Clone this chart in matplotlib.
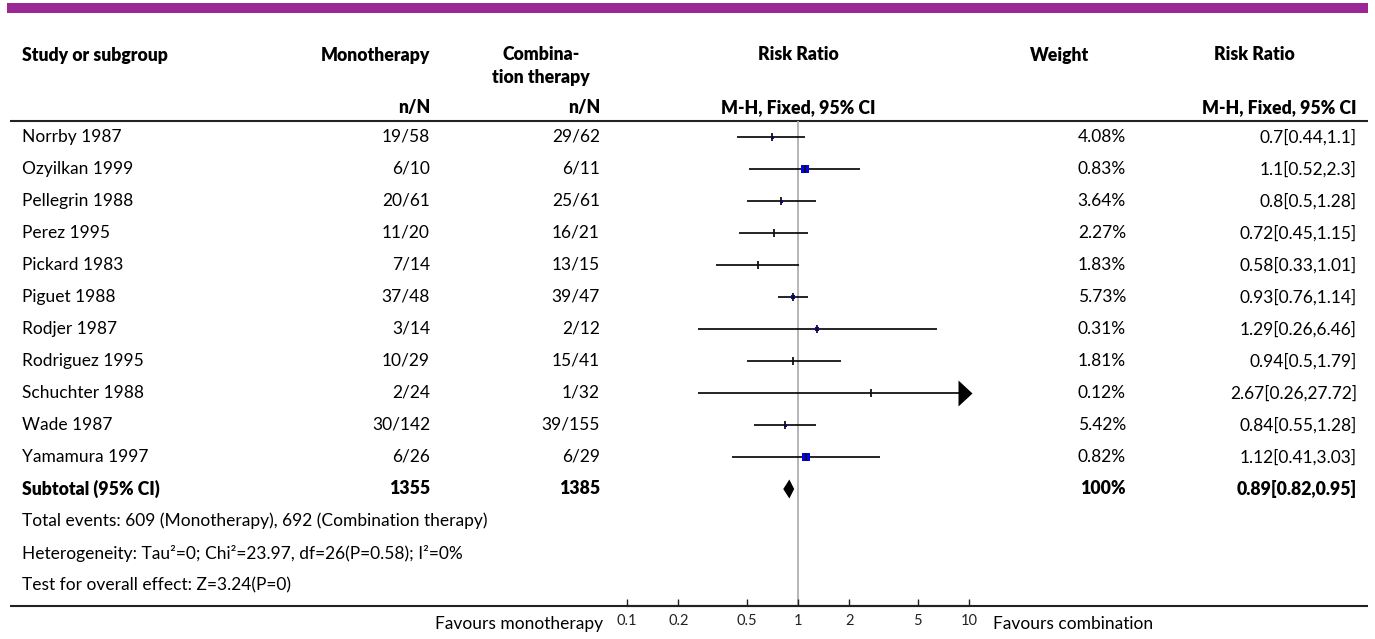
import numpy as np
import matplotlib
matplotlib.use("Agg")
import matplotlib.pyplot as plt
from matplotlib.patches import Rectangle, Polygon

plt.rcParams['font.family'] = ['Lato', 'DejaVu Sans']

# ---------------- data ----------------
studies = ["Norrby 1987", "Ozyilkan 1999", "Pellegrin 1988", "Perez 1995", "Pickard 1983",
           "Piguet 1988", "Rodjer 1987", "Rodriguez 1995", "Schuchter 1988", "Wade 1987",
           "Yamamura 1997"]
mono = ["19/58", "6/10", "20/61", "11/20", "7/14", "37/48", "3/14", "10/29", "2/24", "30/142", "6/26"]
comb = ["29/62", "6/11", "25/61", "16/21", "13/15", "39/47", "2/12", "15/41", "1/32", "39/155", "6/29"]
weights = [4.08, 0.83, 3.64, 2.27, 1.83, 5.73, 0.31, 1.81, 0.12, 5.42, 0.82]
rr = [0.7, 1.1, 0.8, 0.72, 0.58, 0.93, 1.29, 0.94, 2.67, 0.84, 1.12]
lo = [0.44, 0.52, 0.5, 0.45, 0.33, 0.76, 0.26, 0.5, 0.26, 0.55, 0.41]
hi = [1.1, 2.3, 1.28, 1.15, 1.01, 1.14, 6.46, 1.79, 27.72, 1.28, 3.03]
rr_labels = ["0.7[0.44,1.1]", "1.1[0.52,2.3]", "0.8[0.5,1.28]", "0.72[0.45,1.15]",
             "0.58[0.33,1.01]", "0.93[0.76,1.14]", "1.29[0.26,6.46]", "0.94[0.5,1.79]",
             "2.67[0.26,27.72]", "0.84[0.55,1.28]", "1.12[0.41,3.03]"]
sub_mono, sub_comb = "1355", "1385"
sub_weight = "100%"
sub_rr, sub_lo, sub_hi = 0.89, 0.82, 0.95
sub_label = "0.89[0.82,0.95]"
footer_lines = ["Total events: 609 (Monotherapy), 692 (Combination therapy)",
                "Heterogeneity: Tau\u00b2=0; Chi\u00b2=23.97, df=26(P=0.58); I\u00b2=0%",
                "Test for overall effect: Z=3.24(P=0)"]
ticks = [0.1, 0.2, 0.5, 1, 2, 5, 10]
tick_labels = ["0.1", "0.2", "0.5", "1", "2", "5", "10"]

# style: square side in px (as drawn in the reference)
square_px = [3, 8, 3, 2, 0, 4, 5, 1, 0, 3, 8]

# ---------------- layout ----------------
W, H = 1375, 639
fig = plt.figure(figsize=(W / 100, H / 100), dpi=100)
ax = fig.add_axes([0, 0, 1, 1])
ax.set_xlim(0, W)
ax.set_ylim(H, 0)
ax.axis('off')

FS = 12.5
FB = 12.7
BW = 'heavy'
purple = '#9C2896'
ax.add_patch(Rectangle((7, 3), 1368 - 7, 10, color=purple, lw=0))

def bold(x, y, s, ha):
    ax.text(x, y, s, fontsize=FB, fontweight=BW, va='center', ha=ha)

def norm(x, y, s, ha):
    ax.text(x, y, s, fontsize=FS, va='center', ha=ha)

# header
hy1, hy2, hy3 = 55, 77, 108
bold(22, hy1, "Study or subgroup", 'left')
bold(430, hy1, "Monotherapy", 'right')
bold(541, hy1, "Combina-", 'center')
bold(541, hy2, "tion therapy", 'center')
bold(798, hy1, "Risk Ratio", 'center')
bold(1060, hy1, "Weight", 'center')
bold(1254, hy1, "Risk Ratio", 'center')
bold(430, hy3, "n/N", 'right')
bold(600, hy3, "n/N", 'right')
bold(798, hy3, "M-H, Fixed, 95% CI", 'center')
bold(1357, hy3, "M-H, Fixed, 95% CI", 'right')
ax.plot([10, 1368], [121, 121], color='#222222', lw=1.5, solid_capstyle='butt')

# rows
row0, step = 137, 32
row_y = [row0 + step * i for i in range(len(studies))]
for i, y in enumerate(row_y):
    norm(22, y, studies[i], 'left')
    norm(430, y, mono[i], 'right')
    norm(600, y, comb[i], 'right')
    norm(1126, y, f"{weights[i]:.2f}%", 'right')
    norm(1357, y, rr_labels[i], 'right')

sy = row0 + step * len(studies)
bold(22, sy, "Subtotal (95% CI)", 'left')
bold(430, sy, sub_mono, 'right')
bold(600, sy, sub_comb, 'right')
bold(1126, sy, sub_weight, 'right')
bold(1357, sy, sub_label, 'right')
for k, line in enumerate(footer_lines):
    norm(22, sy + step * (k + 1), line, 'left')

axis_y = 606
ax.plot([10, 1368], [axis_y, axis_y], color='#222222', lw=1.5, solid_capstyle='butt')
norm(603, 624, "Favours monotherapy", 'right')
norm(993, 624, "Favours combination", 'left')

# ---------------- forest axes ----------------
x0, x1 = 627, 969
top = 121
fax = fig.add_axes([x0 / W, (H - axis_y) / H, (x1 - x0) / W, (axis_y - top) / H])
fax.set_xscale('log')
fax.set_xlim(0.1, 10)
fax.set_ylim(axis_y, top)
fax.patch.set_alpha(0)
for s in ['top', 'left', 'right']:
    fax.spines[s].set_visible(False)
fax.spines['bottom'].set_linewidth(1.5)
fax.spines['bottom'].set_color('#222222')
fax.set_yticks([])
fax.set_xticks(ticks)
fax.set_xticklabels(tick_labels)
fax.xaxis.set_minor_locator(matplotlib.ticker.NullLocator())
fax.tick_params(axis='x', direction='in', length=5, width=1, labelsize=10.5, pad=6,
                colors='#222222')
fax.axvline(1, color='#b0b0b0', lw=1.3, zorder=0)

ppi = 72 / 100
arrow_marker = [(-0.846, -1), (-0.846, 1), (0.23, 0), (-0.846, -1)]
for i, y in enumerate(row_y):
    right = min(hi[i], 10)
    fax.plot([lo[i], right], [y, y], color='black', lw=1.2, solid_capstyle='butt', zorder=2)
    if hi[i] > 10:
        fax.plot([10], [y], marker=arrow_marker, markersize=26 * ppi, color='black',
                 markeredgewidth=0, zorder=3, clip_on=False)
    if square_px[i] > 0:
        fax.plot([rr[i]], [y], marker='s', markersize=square_px[i] * ppi,
                 color='#0000ee', markeredgewidth=0, zorder=3)
    fax.plot([rr[i]], [y], marker='|', markersize=8 * ppi, color='#111111',
             markeredgewidth=1.3, zorder=4)

# diamond
dh = 9.5
fax.add_patch(Polygon([[sub_lo, sy], [sub_rr, sy - dh], [sub_hi, sy], [sub_rr, sy + dh]],
                      closed=True, color='black', lw=0, zorder=4))

fig.savefig("out.png", dpi=100)
